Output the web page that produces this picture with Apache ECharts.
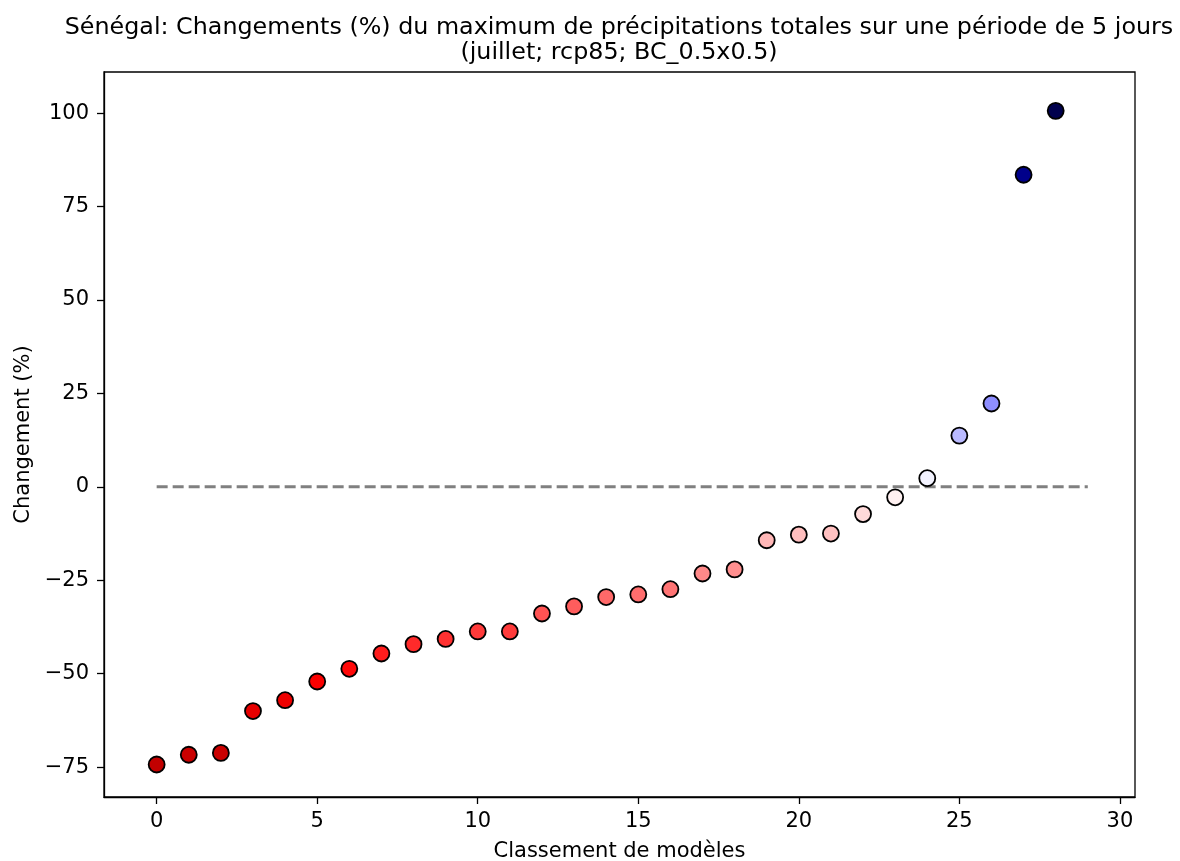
<!DOCTYPE html>
<html>
<head>
<meta charset="utf-8">
<script src="https://cdn.jsdelivr.net/npm/echarts@6/dist/echarts.min.js"></script>
<style>
html,body{margin:0;padding:0;background:#fff;}
#chart{width:1180px;height:861px;}
</style>
</head>
<body>
<div id="chart"></div>
<script>
const ranks = [0,1,2,3,4,5,6,7,8,9,10,11,12,13,14,15,16,17,18,19,20,21,22,23,24,25,26,27,28];
const changes = [-74.3,-71.7,-71.2,-60.0,-57.1,-52.1,-48.7,-44.6,-42.1,-40.7,-38.7,-38.7,-33.9,-32.0,-29.5,-28.8,-27.4,-23.2,-22.1,-14.3,-12.8,-12.5,-7.3,-2.8,2.3,13.7,22.3,83.5,100.6];
const xTicks = [0,5,10,15,20,25,30];
const yTicks = [-75,-50,-25,0,25,50,75,100];
const zeroLineX = [0, 29];
const titleText = 'Sénégal: Changements (%) du maximum de précipitations totales sur une période de 5 jours\n(juillet; rcp85; BC_0.5x0.5)';

const FONT = 'DejaVu Sans';
const chart = echarts.init(document.getElementById('chart'), null, {renderer:'canvas'});
const fmt = v => String(v).replace('-', '\u2212');

chart.setOption({
  backgroundColor:'#ffffff',
  animation:false,
  title:{
    text:titleText,
    left:614, top:10, textAlign:'center',
    textStyle:{fontFamily:FONT, fontSize:23.8, fontWeight:'normal', color:'#000', lineHeight:25}
  },
  grid:{left:104, right:45, top:72, bottom:64, outerBoundsMode:'none', containLabel:false,
        show:true, borderColor:'#000', borderWidth:1.3, backgroundColor:'transparent'},
  xAxis:{
    type:'value', min:-1.64, max:30.47,
    name:'Classement de modèles', nameLocation:'middle', nameGap:44,
    nameTextStyle:{fontFamily:FONT, fontSize:21, color:'#000'},
    axisLine:{show:true, onZero:false, lineStyle:{color:'#000', width:1.3}},
    axisTick:{show:true, length:7, customValues:xTicks, lineStyle:{color:'#000', width:1.3}},
    axisLabel:{customValues:xTicks, margin:14, fontFamily:FONT, fontSize:21, color:'#000', formatter:fmt},
    splitLine:{show:false}
  },
  yAxis:{
    type:'value', min:-83, max:111,
    name:'Changement (%)', nameLocation:'middle', nameGap:70,
    nameTextStyle:{fontFamily:FONT, fontSize:21, color:'#000'},
    axisLine:{show:true, onZero:false, lineStyle:{color:'#000', width:1.3}},
    axisTick:{show:true, length:7, customValues:yTicks, lineStyle:{color:'#000', width:1.3}},
    axisLabel:{customValues:yTicks, margin:15, fontFamily:FONT, fontSize:21, color:'#000', formatter:fmt},
    splitLine:{show:false}
  },
  visualMap:{
    show:false, type:'continuous', seriesIndex:1, dimension:1,
    min:-100.6, max:100.6,
    inRange:{color:['#800000','#ff0000','#ffffff','#0000ff','#00004d']}
  },
  series:[
    {
      type:'line', data:zeroLineX.map(x=>[x,0]), symbol:'none', silent:true, z:1,
      lineStyle:{color:'#808080', width:3, type:[11,5]}
    },
    {
      type:'scatter', z:3,
      data:ranks.map((r,i)=>[r, changes[i]]),
      symbol:'circle', symbolSize:16,
      itemStyle:{borderColor:'#000', borderWidth:1.8, opacity:1}
    }
  ]
});
</script>
</body>
</html>
